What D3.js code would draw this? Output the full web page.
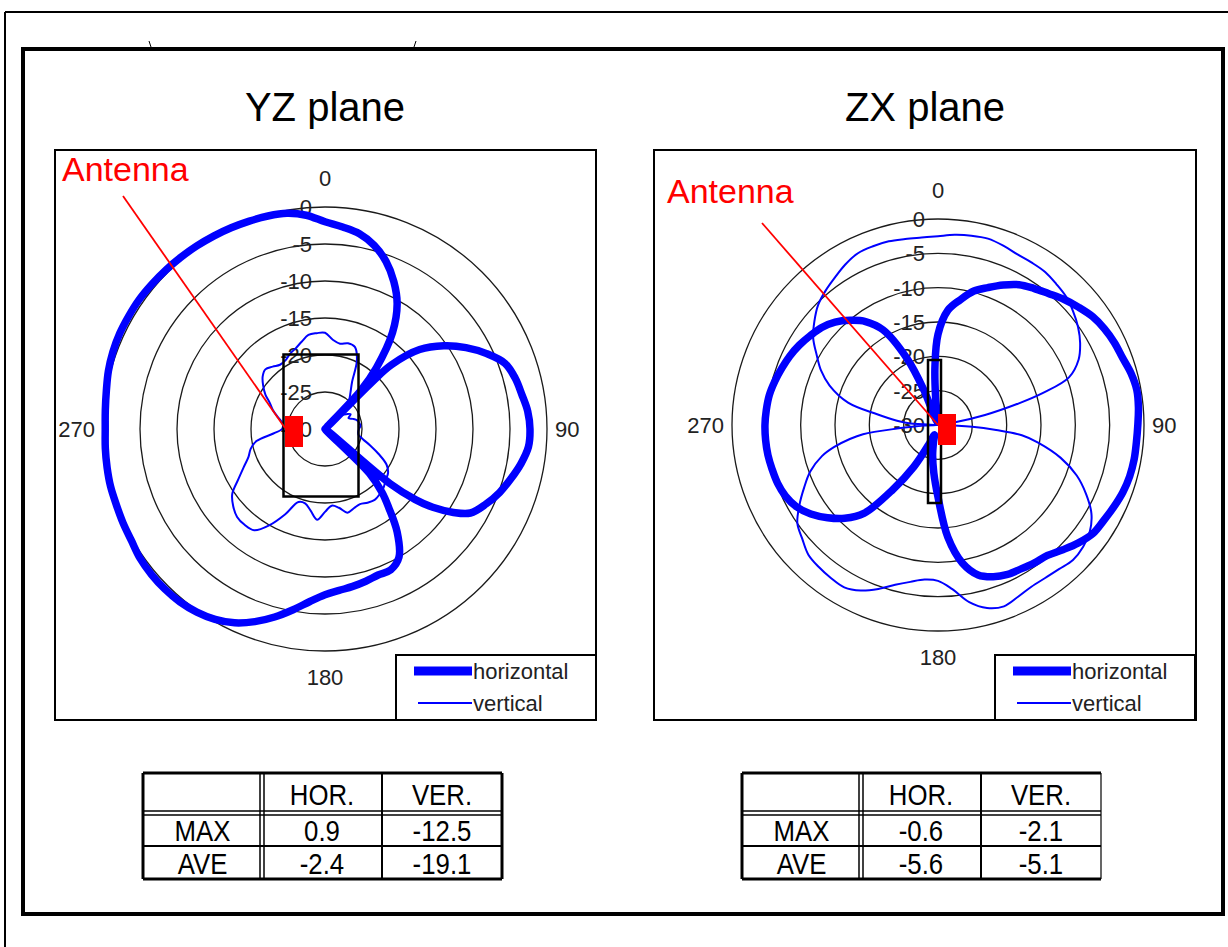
<!DOCTYPE html>
<html>
<head>
<meta charset="utf-8">
<script src="https://cdn.jsdelivr.net/npm/d3@7"></script>
<style>
  body { margin: 0; background: #fff; }
  text { font-family: "Liberation Sans", Arial, sans-serif; }
</style>
</head>
<body>
<script>
// ---- data (dB, angle in degrees clockwise from top) ----
var ringValues = [0, -5, -10, -15, -20, -25, -30];
var ringLabels = ["0", "-5", "-10", "-15", "-20", "-25", "-30"];
var dirAngles = [0, 90, 180, 270];
var dirLabels = ["0", "90", "180", "270"];
var legendLabels = ["horizontal", "vertical"];

var yzHorAngles = [0,5,10,15,20,25,30,35,40,43,44,45,46,50,55,60,65,70,75,80,85,90,95,100,105,110,115,120,123,126,128,130,132,135,138,141,145,150,155,160,165,170,175,180,185,190,195,200,205,210,215,220,225,230,235,240,245,250,255,260,265,270,275,280,285,290,295,300,305,310,315,320,325,330,335,340,345,350,355];
var yzHorValues = [-2.0,-2.6,-3.2,-4.3,-5.9,-8.0,-10.5,-14.1,-19.2,-23,-30,-21,-17.5,-13.3,-10.4,-8.0,-5.9,-4.1,-3.4,-3.0,-2.5,-2.3,-2.4,-3.1,-4.0,-4.9,-6.0,-7.3,-9.3,-12.0,-14.5,-18.5,-30,-21.5,-18.5,-16.3,-13.0,-10.0,-9.0,-9.0,-8.7,-8.4,-8.1,-7.6,-6.6,-5.2,-3.7,-2.3,-1.1,-0.3,0.2,0.5,0.6,0.6,0.5,0.2,0.1,0.0,0.0,-0.1,-0.2,-0.3,-0.2,0.0,0.3,0.5,0.6,0.6,0.6,0.5,0.4,0.3,0.2,0.1,0.0,-0.1,-0.2,-0.4,-1.0];

var yzVerAngles = [0,5,10,15,20,25,30,35,40,45,50,55,60,65,70,75,80,85,90,95,100,105,110,115,120,125,130,135,140,145,150,155,160,165,170,175,180,185,190,195,200,205,210,215,220,225,230,235,240,245,250,255,260,265,270,275,280,285,290,295,300,305,310,315,320,325,330,335,340,345,350,355];
var yzVerValues = [-17.0,-17.9,-18.3,-18.0,-18.2,-19.8,-22.7,-24.0,-25.0,-27.5,-27,-26.5,-26,-26.5,-26,-25.5,-25.3,-25.2,-25.4,-25.5,-25.4,-24.7,-23.5,-22,-20.4,-19.6,-19.3,-18.8,-18.5,-18.3,-18.5,-18.8,-18.6,-18.3,-19.2,-19.6,-18.8,-17.7,-18.8,-19.6,-19.5,-17.3,-15.0,-13.3,-13.1,-13.2,-13.8,-14.7,-16.5,-17.9,-19.0,-19.6,-20.6,-23,-24.2,-24.3,-24,-23.3,-22.5,-21.8,-20.7,-19.8,-19.0,-18.6,-19.0,-19.4,-19.3,-18.8,-18.4,-17.8,-17.1,-17.0];

var zxHorAngles = [0,5,10,15,20,25,30,35,40,45,50,55,60,65,70,75,80,85,90,95,100,105,110,115,120,125,130,135,140,145,150,155,160,165,170,175,180,185,190,195,200,205,210,215,220,225,230,235,240,245,250,255,260,265,270,275,280,285,290,295,300,305,310,315,320,325,330,335,338,342,350,355,357];
var zxHorValues = [-16.8,-13.2,-11.5,-9.8,-8.7,-7.5,-6.4,-5.7,-5.0,-4.1,-3.3,-2.5,-2.0,-1.65,-1.4,-0.9,-0.6,-0.7,-0.9,-1.0,-1.0,-1.1,-1.35,-1.75,-2.15,-2.45,-3.3,-4.3,-5.2,-5.5,-5.8,-6.0,-6.5,-7.4,-9.6,-13.6,-19.5,-23,-25.5,-27.5,-28.5,-27,-23,-18.5,-13.2,-10.8,-9.0,-7.4,-6.2,-5.5,-5.15,-5.0,-4.85,-4.8,-4.8,-4.9,-5.05,-5.4,-5.8,-6.2,-6.7,-7.3,-7.9,-8.8,-10.1,-11.6,-14.0,-19.3,-24.5,-29.5,-29.5,-26,-21.5];

var zxVerAngles = [0,5,10,15,20,25,30,35,40,45,50,55,60,65,70,73,75,78,82,85,90,93,95,97,100,105,110,115,120,125,130,135,140,145,150,155,160,165,170,175,180,185,190,195,200,205,210,215,220,225,230,235,240,245,250,255,258,261,263,265,268,270,273,276,280,284,290,295,300,305,310,315,320,325,330,335,340,345,350,355];
var zxVerValues = [-2.5,-2.2,-2.0,-1.9,-2.2,-2.6,-2.7,-2.8,-3.2,-3.6,-4.3,-5.1,-6.1,-7.4,-9.7,-14,-17.8,-23,-28,-30,-29.5,-25,-21.5,-17.7,-15.2,-11.5,-8.5,-6.2,-4.2,-3.0,-2.4,-2.2,-2.6,-2.8,-2.8,-2.4,-1.9,-2.4,-3.8,-6.0,-7.3,-7.4,-6.8,-5.9,-4.6,-3.4,-2.7,-2.8,-3.0,-3.3,-4.2,-5.0,-6.7,-8.5,-10.2,-12.5,-14.5,-17,-19,-24,-28,-30,-26,-24,-21,-16.5,-13.2,-11.2,-9.6,-7.8,-6.5,-5.3,-4.5,-3.8,-3.0,-2.4,-2.3,-2.3,-2.5,-2.6];

var tableCols = ["", "HOR.", "VER."];
var tableRows = ["MAX", "AVE"];
var yzTable = [["0.9", "-12.5"], ["-2.4", "-19.1"]];
var zxTable = [["-0.6", "-2.1"], ["-5.6", "-5.1"]];

var width = 1228, height = 947;
var blue = "#0000ff", red = "#ff0000";

var svg = d3.select("body").append("svg").attr("width", width).attr("height", height);

// page frame
svg.append("line").attr("x1", 5).attr("y1", 12).attr("x2", width).attr("y2", 12).style("stroke", "#000").style("stroke-width", 2);
svg.append("line").attr("x1", 5).attr("y1", 12).attr("x2", 5).attr("y2", height).style("stroke", "#000").style("stroke-width", 2);
svg.append("line").attr("x1", 149).attr("y1", 41).attr("x2", 151).attr("y2", 47).style("stroke", "#000").style("stroke-width", 1);
svg.append("line").attr("x1", 416).attr("y1", 41).attr("x2", 414).attr("y2", 47).style("stroke", "#000").style("stroke-width", 1);
svg.append("rect").attr("x", 23).attr("y", 49).attr("width", 1200).attr("height", 865)
    .style("fill", "none").style("stroke", "#000").style("stroke-width", 4);

function series(angles, values) {
    return angles.map(function(a, i) { return [a, values[i]]; });
}

function drawPanel(p) {
    var g = svg.append("g");
    g.append("rect").attr("x", p.box[0]).attr("y", p.box[1]).attr("width", p.box[2]).attr("height", p.box[3])
        .style("fill", "#fff").style("stroke", "#000").style("stroke-width", 2);

    svg.append("text").text(p.title).attr("x", p.titleX).attr("y", 121)
        .attr("text-anchor", "middle").attr("font-size", "40px").style("fill", "#000");

    var r = d3.scaleLinear().domain([-30, 0]).range([0, p.R]);
    var pg = g.append("g").attr("transform", "translate(" + p.cx + "," + p.cy + ")");

    pg.selectAll("circle.ring").data(ringValues.filter(function(v) { return v > -30; })).enter()
        .append("circle").attr("class", "ring").attr("r", function(v) { return r(v); })
        .style("fill", "none").style("stroke", "#1a1a1a").style("stroke-width", 1.3);

    pg.selectAll("text.rl").data(ringValues).enter().append("text").attr("class", "rl")
        .attr("x", -13).attr("y", function(v) { return -r(v); }).attr("dy", "0.36em")
        .attr("text-anchor", "end").attr("font-size", "22px").style("fill", "#222")
        .text(function(v, i) { return ringLabels[i]; });

    pg.selectAll("text.dir").data(dirAngles).enter().append("text").attr("class", "dir")
        .attr("x", function(a) { return Math.sin(a * Math.PI / 180) * (p.R + 8); })
        .attr("y", function(a) { return a === 0 ? -p.R - 29 : a === 180 ? p.R + 26 : 0; })
        .attr("dy", "0.36em").attr("font-size", "22px").style("fill", "#222")
        .attr("text-anchor", function(a) { return a === 90 ? "start" : a === 270 ? "end" : "middle"; })
        .text(function(a, i) { return dirLabels[i]; });

    var line = d3.lineRadial()
        .angle(function(d) { return d[0] * Math.PI / 180; })
        .radius(function(d) { return r(Math.max(-30, d[1])); })
        .curve(d3.curveCatmullRomClosed.alpha(0.5));

    pg.append("path").attr("d", line(series(p.verA, p.verV)))
        .style("fill", "none").style("stroke", blue).style("stroke-width", 2);
    pg.append("path").attr("d", line(series(p.horA, p.horV)))
        .style("fill", "none").style("stroke", blue).style("stroke-width", 7.5).style("stroke-linejoin", "round");

    // device outline, antenna marker and callout
    g.append("rect").attr("x", p.dev[0]).attr("y", p.dev[1]).attr("width", p.dev[2]).attr("height", p.dev[3])
        .style("fill", "none").style("stroke", "#000").style("stroke-width", 2.5);
    g.append("rect").attr("x", p.ant[0]).attr("y", p.ant[1]).attr("width", p.ant[2]).attr("height", p.ant[3])
        .style("fill", red);
    g.append("line").attr("x1", p.call[0]).attr("y1", p.call[1]).attr("x2", p.call[2]).attr("y2", p.call[3])
        .style("stroke", red).style("stroke-width", 1.8);
    g.append("text").text("Antenna").attr("x", p.antText[0]).attr("y", p.antText[1])
        .attr("font-size", "34px").style("fill", red);

    // legend
    var lx = p.legend[0], ly = p.legend[1];
    g.append("rect").attr("x", lx).attr("y", ly).attr("width", 200).attr("height", 65)
        .style("fill", "#fff").style("stroke", "#000").style("stroke-width", 2);
    var lg = g.selectAll("g.leg").data(legendLabels).enter().append("g").attr("class", "leg")
        .attr("transform", function(d, i) { return "translate(" + lx + "," + (ly + 16 + i * 32) + ")"; });
    lg.append("line").attr("x1", function(d, i) { return i === 0 ? 18 : 22; }).attr("x2", 76).attr("y1", 0).attr("y2", 0)
        .style("stroke", blue).style("stroke-width", function(d, i) { return i === 0 ? 9 : 2; });
    lg.append("text").attr("x", 77).attr("y", 0).attr("dy", "0.36em").attr("font-size", "22px").style("fill", "#222")
        .text(function(d) { return d; });
}

function drawTable(x0, y0, rows, rightW) {
    var colW = [119, 120, 120], rowH = [40, 33, 33];
    var xs = [x0, x0 + colW[0], x0 + colW[0] + colW[1], x0 + colW[0] + colW[1] + colW[2]];
    var ys = [y0, y0 + rowH[0], y0 + rowH[0] + rowH[1], y0 + rowH[0] + rowH[1] + rowH[2]];
    var g = svg.append("g");
    var st = function(sel, w) { return sel.style("stroke", "#000").style("stroke-width", w); };
    st(g.append("line").attr("x1", xs[0]).attr("x2", xs[3]).attr("y1", ys[0]).attr("y2", ys[0]), 3);
    st(g.append("line").attr("x1", xs[0]).attr("x2", xs[3]).attr("y1", ys[3]).attr("y2", ys[3]), 3);
    st(g.append("line").attr("x1", xs[0]).attr("x2", xs[0]).attr("y1", ys[0]).attr("y2", ys[3]), 3);
    st(g.append("line").attr("x1", xs[3]).attr("x2", xs[3]).attr("y1", ys[0]).attr("y2", ys[3]), rightW);
    // double rules
    st(g.append("line").attr("x1", xs[0]).attr("x2", xs[3]).attr("y1", ys[1] - 2).attr("y2", ys[1] - 2), 1.5);
    st(g.append("line").attr("x1", xs[0]).attr("x2", xs[3]).attr("y1", ys[1] + 2).attr("y2", ys[1] + 2), 1.5);
    st(g.append("line").attr("x1", xs[1] - 2).attr("x2", xs[1] - 2).attr("y1", ys[0]).attr("y2", ys[3]), 1.5);
    st(g.append("line").attr("x1", xs[1] + 2).attr("x2", xs[1] + 2).attr("y1", ys[0]).attr("y2", ys[3]), 1.5);
    st(g.append("line").attr("x1", xs[2]).attr("x2", xs[2]).attr("y1", ys[0]).attr("y2", ys[3]), 2);
    st(g.append("line").attr("x1", xs[0]).attr("x2", xs[3]).attr("y1", ys[2]).attr("y2", ys[2]), 2);

    var cell = function(txt, ci, ri) {
        var mx = (xs[ci] + xs[ci + 1]) / 2;
        g.append("text").text(txt).attr("x", mx).attr("y", (ys[ri] + ys[ri + 1]) / 2 + 1)
            .attr("dy", "0.36em").attr("text-anchor", "middle").attr("font-size", "30px")
            .attr("transform", "translate(" + mx + ",0) scale(0.86,1) translate(" + (-mx) + ",0)")
            .style("fill", "#000");
    };
    tableCols.forEach(function(c, i) { if (c) cell(c, i, 0); });
    tableRows.forEach(function(rw, j) {
        cell(rw, 0, j + 1);
        cell(rows[j][0], 1, j + 1);
        cell(rows[j][1], 2, j + 1);
    });
}

drawPanel({
    title: "YZ plane", titleX: 325, box: [55, 150, 541, 570], cx: 325, cy: 429, R: 222,
    horA: yzHorAngles, horV: yzHorValues, verA: yzVerAngles, verV: yzVerValues,
    dev: [283.5, 354.5, 75, 142], ant: [285, 416, 18, 31], call: [123, 196, 285, 428], antText: [62, 181],
    legend: [396, 655]
});
drawPanel({
    title: "ZX plane", titleX: 925, box: [654, 150, 542, 570], cx: 938, cy: 425, R: 206,
    horA: zxHorAngles, horV: zxHorValues, verA: zxVerAngles, verV: zxVerValues,
    dev: [928, 360, 13, 143], ant: [938, 414, 18, 31], call: [762, 223, 938, 425], antText: [667, 203],
    legend: [995, 655]
});

drawTable(143, 773, yzTable, 3);
drawTable(742, 773, zxTable, 1.2);
</script>
</body>
</html>
